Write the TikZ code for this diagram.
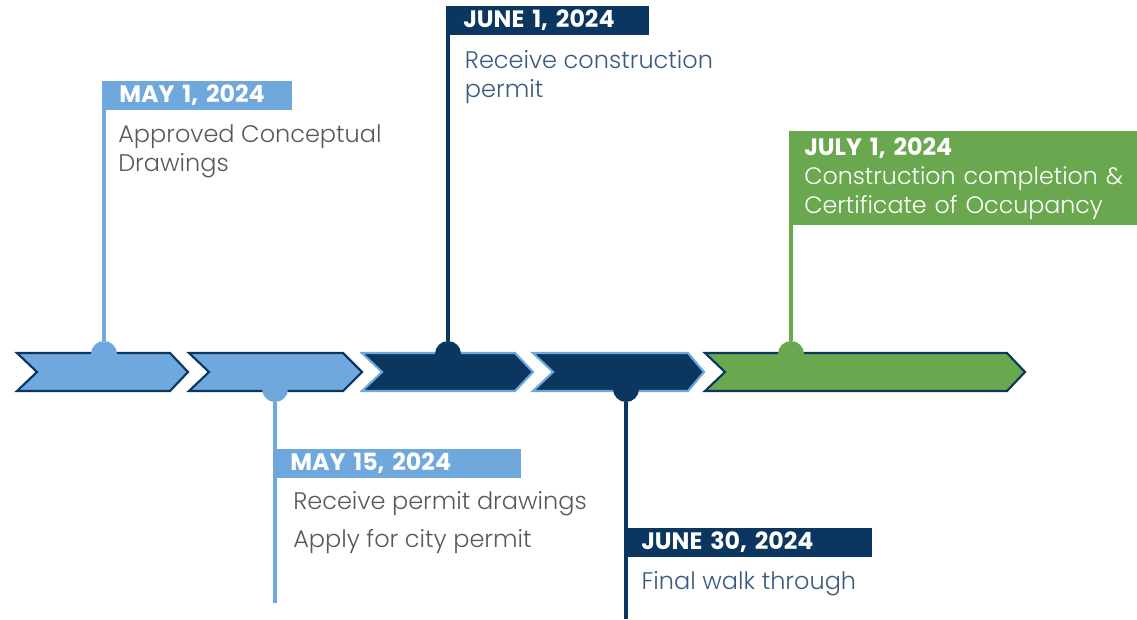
\documentclass[tikz,border=0pt]{standalone}
\usepackage{fontspec}
\setmainfont{Poppins}
\newfontfamily\lightfont{Poppins Light}
\usetikzlibrary{positioning}

\definecolor{skyblue}{HTML}{6FA8DC}
\definecolor{navy}{HTML}{0B3660}
\definecolor{leaf}{HTML}{6AA84F}
\definecolor{greytext}{HTML}{595959}
\definecolor{bluetext}{HTML}{3A5A80}

\tikzset{
	chevron/.style={line width=1.6pt, line join=miter},
	stem/.style={line width=3pt},
	dot/.style={circle, inner sep=0pt, minimum size=19.5pt},
	datebox/.style={anchor=north west, inner xsep=12.75pt, inner ysep=0pt,
		minimum height=21.5pt, align=left, text=white,
		font=\bfseries\fontsize{17.8}{19}\selectfont},
	note/.style={inner sep=0pt, align=left,
		font=\lightfont\fontsize{18}{21.75}\selectfont},
}

\begin{document}
\begin{tikzpicture}[x=0.75pt, y=-0.75pt]
	\useasboundingbox (0,0) rectangle (1137,619);

	% arrow band
	\draw[chevron, fill=skyblue, draw=navy]
		(17,353) -- (170,353) -- (188,372) -- (170,391) -- (17,391) -- (37,372) -- cycle;
	\draw[chevron, fill=skyblue, draw=navy]
		(189,353) -- (343,353) -- (362,372) -- (343,391) -- (189,391) -- (209,372) -- cycle;
	\draw[chevron, fill=navy, draw=skyblue]
		(362,353) -- (515,353) -- (533,372) -- (515,391) -- (362,391) -- (382,372) -- cycle;
	\draw[chevron, fill=navy, draw=skyblue]
		(533,353) -- (688,353) -- (704,372) -- (688,391) -- (533,391) -- (553,372) -- cycle;
	\draw[chevron, fill=leaf, draw=navy]
		(705,353) -- (1007,353) -- (1025,372) -- (1007,391) -- (705,391) -- (725,372) -- cycle;

	% milestones
	\node[dot, fill=skyblue] (m1) at (104,354) {};
	\node[dot, fill=skyblue] (m2) at (275,389) {};
	\node[dot, fill=navy] (m3) at (448,354) {};
	\node[dot, fill=navy] (m4) at (626,389) {};
	\node[dot, fill=leaf] (m5) at (791,354) {};

	\coordinate (top1) at (102,81);
	\coordinate (top2) at (273,449);
	\coordinate (top3) at (446,6);
	\coordinate (top4) at (624,528);
	\coordinate (top5) at (789,131);
	\coordinate (end2) at (275,603);
	\coordinate (end4) at (626,619);

	\draw[stem, skyblue] (m1) -- (m1 |- top1);
	\draw[stem, skyblue] (m2) -- (end2);
	\draw[stem, navy] (m3) -- (m3 |- top3);
	\draw[stem, navy] (m4) -- (end4);
	\draw[stem, leaf] (m5) -- (m5 |- top5);

	% date labels
	\node[datebox, fill=skyblue, text width=117pt] (d1) at (top1) {MAY 1, 2024};
	\node[datebox, fill=skyblue, text width=160.5pt] (d2) at (top2) {MAY 15, 2024};
	\node[datebox, fill=navy, text width=126.75pt] (d3) at (top3) {JUNE 1, 2024};
	\node[datebox, fill=navy, text width=160.5pt] (d4) at (top4) {JUNE 30, 2024};
	\node[datebox, fill=leaf, inner xsep=11.25pt, text width=243pt, minimum height=70.5pt,
		font=\fontsize{17.8}{21.75}\selectfont] (d5) at (top5)
		{\textbf{JULY 1, 2024}\\{\lightfont Construction completion \&}\\{\lightfont Certificate of Occupancy}};

	% descriptions
	\node[note, text=greytext, below right=10.5pt and 12pt of d1.south west] (n1)
		{Approved Conceptual\\Drawings};
	\node[note, text=greytext, below right=9.5pt and 15pt of d2.south west] (n2)
		{Receive permit drawings\\[6.75pt]Apply for city permit};
	\node[note, text=bluetext, below right=11pt and 14pt of d3.south west] (n3)
		{Receive construction\\permit};
	\node[note, text=bluetext, below right=10.5pt and 13pt of d4.south west] (n4)
		{Final walk through};
\end{tikzpicture}
\end{document}
